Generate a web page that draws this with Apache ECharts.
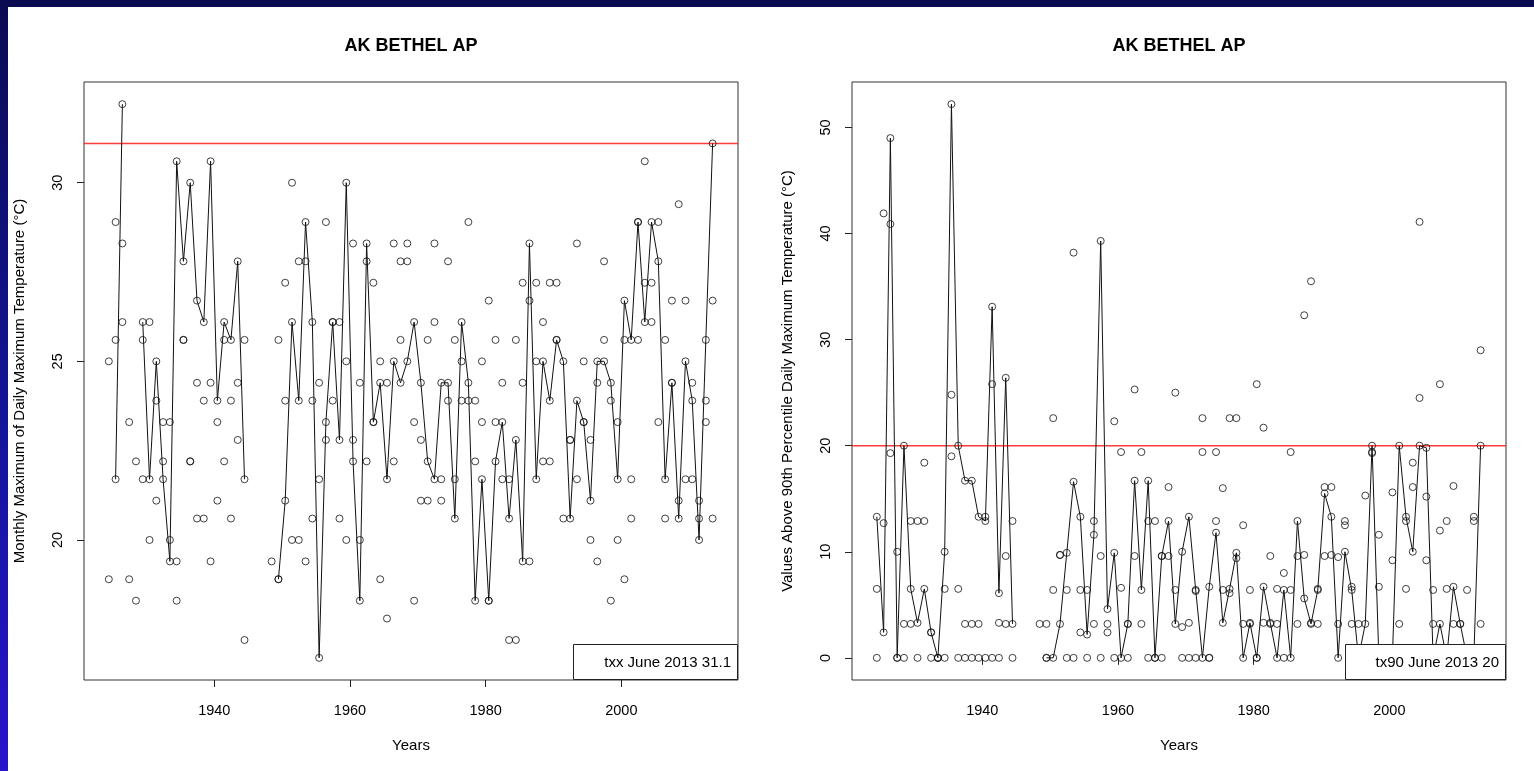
<!DOCTYPE html>
<html>
<head>
<meta charset="utf-8">
<script src="https://cdn.jsdelivr.net/npm/echarts@6/dist/echarts.min.js"></script>
<style>
  html, body { margin: 0; padding: 0; width: 1534px; height: 771px; overflow: hidden; background: #0b0b52; }
  #edge { position: absolute; left: 0; top: 0; width: 8px; height: 771px;
          background: linear-gradient(to bottom, #0b0b52 0%, #13159a 55%, #2a14cc 100%); }
  #sheet { position: absolute; left: 8px; top: 7px; right: 0; bottom: 0; background: #ffffff; }
  #chart { position: absolute; left: 0; top: 0; width: 1534px; height: 771px; }
</style>
</head>
<body>
<div id="edge"></div>
<div id="sheet"></div>
<div id="chart"></div>
<script>
// Station and index labels
const stationName = 'AK BETHEL AP';
const reportMonth = 'June';
const reportYear = 2013;

// Years with observations (1945-1947 absent)
const years = [
  1924, 1925, 1926, 1927, 1928, 1929, 1930, 1931, 1932, 1933,
  1934, 1935, 1936, 1937, 1938, 1939, 1940, 1941, 1942, 1943,
  1944, 1948, 1949, 1950, 1951, 1952, 1953, 1954, 1955, 1956,
  1957, 1958, 1959, 1960, 1961, 1962, 1963, 1964, 1965, 1966,
  1967, 1968, 1969, 1970, 1971, 1972, 1973, 1974, 1975, 1976,
  1977, 1978, 1979, 1980, 1981, 1982, 1983, 1984, 1985, 1986,
  1987, 1988, 1989, 1990, 1991, 1992, 1993, 1994, 1995, 1996,
  1997, 1998, 1999, 2000, 2001, 2002, 2003, 2004, 2005, 2006,
  2007, 2008, 2009, 2010, 2011, 2012, 2013
];

// TXx: June monthly maximum of daily maximum temperature (°C), null = missing
const txxJune = [
  null, 21.7, 32.2, null, null, 26.1, 21.7, 25.0, 21.7, 19.4,
  30.6, 27.8, 30.0, 26.7, 26.1, 30.6, 23.9, 26.1, 25.6, 27.8,
  21.7, null, 18.9, 21.1, 26.1, 23.9, 28.9, 26.1, 16.7, 23.3,
  26.1, 22.8, 30.0, 22.2, 18.3, 28.3, 23.3, 24.4, 21.7, 25.0,
  24.4, 25.0, 26.1, 24.4, 22.2, 21.7, 24.4, 24.4, 20.6, 26.1,
  24.4, 18.3, 21.7, 18.3, 22.2, 23.3, 20.6, 22.8, 19.4, 28.3,
  21.7, 25.0, 23.9, 25.6, 25.0, 20.6, 23.9, 23.3, 21.1, 25.0,
  25.0, 24.4, 21.7, 26.7, 25.6, 28.9, 26.1, 28.9, 27.8, 21.7,
  24.4, 20.6, 25.0, 23.9, 20.0, 25.6, 31.1
];
// TXx: the other monthly values plotted for each year (°C)
const txxOtherA = [
  25.0, 28.9, 28.3, 23.3, 22.2, 25.6, 26.1, 23.9, 23.3, 23.3,
  19.4, 25.6, 22.2, 24.4, 23.9, 24.4, 23.3, 25.6, 23.9, 24.4,
  25.6, 19.4, 25.6, 27.2, 30.0, 27.8, 27.8, 23.9, 24.4, 28.9,
  26.1, 26.1, 25.0, 28.3, 24.4, 27.8, 27.2, 25.0, 24.4, 28.3,
  27.8, 28.3, 23.3, 22.8, 25.6, 28.3, 21.7, 27.8, 25.6, 25.0,
  28.9, 23.9, 25.0, 26.7, 25.6, 24.4, 21.7, 25.6, 27.2, 26.7,
  27.2, 26.1, 27.2, 27.2, 20.6, 22.8, 28.3, 25.0, 22.8, 24.4,
  27.8, 23.9, 23.3, 25.6, 21.7, 28.9, 30.6, 27.2, 28.9, 25.6,
  26.7, 29.4, 26.7, 24.4, 21.1, 23.9, 26.7
];
const txxOtherB = [
  18.9, 25.6, 26.1, 18.9, 18.3, 21.7, 20.0, 21.1, 22.2, 20.0,
  18.3, 25.6, 22.2, 20.6, 20.6, 19.4, 21.1, 22.2, 20.6, 22.8,
  17.2, null, 18.9, 23.9, 20.0, 20.0, 19.4, 20.6, 21.7, 22.8,
  23.9, 20.6, 20.0, 22.8, 20.0, 22.2, 23.3, 18.9, 17.8, 22.2,
  25.6, 27.8, 18.3, 21.1, 21.1, 26.1, 21.1, 23.9, 21.7, 23.9,
  23.9, 22.2, 23.3, 18.3, 23.3, 21.7, 17.2, 17.2, 24.4, 19.4,
  25.0, 22.2, 22.2, 25.6, null, 22.8, 21.7, 23.3, 20.0, 19.4,
  25.6, 18.3, 20.0, 18.9, 20.6, 25.6, 27.2, 26.1, 23.3, 20.6,
  24.4, 21.1, 21.7, 21.7, 20.6, 23.3, 20.6
];

// TX90p: June values above the 90th percentile daily maximum temperature
const tx90June = [
  13.3, 2.4, 49.0, 0, 20.0, 6.5, 3.3, 6.5, 2.4, 0,
  10.0, 52.2, 20.0, 16.7, 16.7, 13.3, 12.9, 33.1, 6.1, 26.4,
  3.2, null, 0, 0, 3.2, 9.9, 16.6, 13.3, 2.2, 11.6,
  39.3, 4.6, 9.9, 0, 3.2, 16.7, 6.4, 16.7, 0, 9.6,
  12.9, 3.2, 10.0, 13.3, 6.4, 0, 6.7, 11.8, 3.3, 6.5,
  9.9, 0, 3.3, 0, 6.7, 3.3, 0, 6.4, 0, 12.9,
  5.6, 3.2, 6.4, 15.5, 13.3, 0, 10.0, 6.4, 0, 3.2,
  20.0, 0, 0, 0, 20.0, 13.3, 10.0, 20.0, 19.8, 0,
  3.2, 0, 6.7, 3.2, 0, 0, 20.0
];
const tx90OtherA = [
  6.5, 41.9, 40.9, 10.0, 3.2, 12.9, 12.9, 12.9, 2.4, 0,
  6.5, 24.8, 6.5, 3.2, 3.2, 3.2, 13.3, 25.8, 3.3, 9.6,
  12.9, 3.2, 0, 22.6, 9.7, 6.4, 38.2, 6.4, 6.4, 12.9,
  9.6, 3.2, 22.3, 19.4, 3.2, 25.3, 19.4, 12.9, 12.9, 9.6,
  16.1, 25.0, 2.9, 3.3, 6.3, 22.6, 0, 19.4, 16.0, 22.6,
  22.6, 12.5, 6.4, 25.8, 21.7, 9.6, 6.5, 8.0, 19.4, 9.6,
  32.3, 35.5, 6.5, 16.1, 16.1, 9.5, 12.9, 6.7, 3.2, 15.3,
  19.4, 11.6, 0, 15.6, 3.2, 12.9, 18.4, 41.1, 15.2, 6.4,
  25.8, 12.9, 16.2, 3.2, 6.4, 13.3, 29.0
];
const tx90OtherB = [
  0, 12.7, 19.3, 0, 0, 3.2, 0, 18.4, 0, 0,
  0, 19.0, 0, 0, 0, 0, 0, 0, 0, 3.2,
  0, null, 3.2, 6.4, 9.7, 0, 0, 2.4, 0, 3.2,
  0, 2.4, 0, 6.6, 0, 9.6, 3.2, 0, 0, 0,
  9.6, 6.4, 0, 0, 0, 19.4, 0, 12.9, 6.4, 6.1,
  9.4, 3.2, 3.2, 0, 3.3, 3.2, 3.2, 0, 6.4, 3.2,
  9.7, 3.3, 3.2, 9.6, 9.7, 3.2, 12.5, 3.2, 0, 0,
  19.3, 6.7, 0, 9.2, 0, 6.5, 16.1, 24.5, 9.2, 3.2,
  12.0, 6.5, 3.2, 0, 0, 12.9, 3.2
];

// Axis tick values
const yearTicks = [1940, 1960, 1980, 2000];
const txxTicks = [20, 25, 30];
const tx90Ticks = [0, 10, 20, 30, 40, 50];

// Year axis bounds shared by both panels
const YEAR_MIN = 1920.8;
const YEAR_MAX = 2017.2;
// Mid-June as a decimal-year offset
const JUNE_POS = 5.5 / 12;
const FONT = '"Liberation Sans", Arial, Helvetica, sans-serif';
const THRESHOLD_RED = '#ff1a1a';

function scatterPoints(arrays) {
  const out = [];
  arrays.forEach(arr => arr.forEach((v, i) => {
    if (v !== null && v !== undefined) out.push([years[i] + JUNE_POS, v]);
  }));
  return out;
}
function linePoints(arr) {
  return years.map((y, i) => [y + JUNE_POS, arr[i] === null ? '-' : arr[i]]);
}
// Plot range padded by 4% of the data range on each side
function paddedRange(arrays) {
  const all = [].concat(...arrays).filter(v => v !== null);
  const lo = Math.min(...all), hi = Math.max(...all);
  const pad = (hi - lo) * 0.04;
  return [lo - pad, hi + pad];
}

const txxRange = paddedRange([txxJune, txxOtherA, txxOtherB]);
const tx90Range = paddedRange([tx90June, tx90OtherA, tx90OtherB]);
const lastIdx = years.indexOf(reportYear);
const txxLatest = txxJune[lastIdx];
const tx90Latest = tx90June[lastIdx];

const grids = [
  { left: 84, top: 82, width: 654, height: 598 },
  { left: 852, top: 82, width: 654, height: 598 }
];

function xAxisFor(gi) {
  return {
    type: 'value', gridIndex: gi, min: YEAR_MIN, max: YEAR_MAX,
    axisLine: { show: false },
    splitLine: { show: false },
    axisTick: { show: true, inside: false, length: 7, customValues: yearTicks,
                lineStyle: { color: '#222', width: 1 } },
    axisLabel: { show: true, customValues: yearTicks, margin: 23,
                 color: '#000', fontSize: 14.5, fontFamily: FONT,
                 formatter: v => String(Math.round(v)) }
  };
}
function yAxisFor(gi, range, ticks) {
  return {
    type: 'value', gridIndex: gi, min: range[0], max: range[1],
    axisLine: { show: false },
    splitLine: { show: false },
    axisTick: { show: true, inside: false, length: 7, customValues: ticks,
                lineStyle: { color: '#222', width: 1 } },
    axisLabel: { show: true, customValues: ticks, rotate: 90, margin: 19,
                 color: '#000', fontSize: 14.5, fontFamily: FONT,
                 formatter: v => String(Math.round(v)) }
  };
}

const circleStyle = { color: 'rgba(0,0,0,0)', borderColor: '#111', borderWidth: 1 };

// One panel: red reference level at the latest June value, the June line, all monthly circles
function panelSeries(gi, june, otherA, otherB, threshold) {
  return [
    {
      type: 'line', xAxisIndex: gi, yAxisIndex: gi,
      data: [[YEAR_MIN, threshold], [YEAR_MAX, threshold]],
      showSymbol: false, color: THRESHOLD_RED,
      lineStyle: { color: THRESHOLD_RED, width: 1.6, opacity: 0.85 },
      silent: true, animation: false, z: 2
    },
    {
      type: 'line', xAxisIndex: gi, yAxisIndex: gi,
      data: linePoints(june), showSymbol: false, connectNulls: false,
      color: '#111', lineStyle: { color: '#111', width: 1 },
      silent: true, animation: false, z: 3
    },
    {
      type: 'scatter', xAxisIndex: gi, yAxisIndex: gi,
      data: scatterPoints([june, otherA, otherB]),
      symbol: 'circle', symbolSize: 7, itemStyle: circleStyle,
      silent: true, animation: false, z: 4
    }
  ];
}

function text(x, y, str, font, rot, align) {
  return {
    type: 'text', x: x, y: y, rotation: rot || 0, z: 20,
    style: { text: str, font: font, fill: '#000',
             textAlign: align || 'center', textVerticalAlign: 'middle',
             align: align || 'center', verticalAlign: 'middle' }
  };
}

const titleFont = 'bold 18px ' + FONT;
const labelFont = '15px ' + FONT;
const legendFont = '15px ' + FONT;

const chart = echarts.init(document.getElementById('chart'), null, { renderer: 'canvas' });
chart.setOption({
  backgroundColor: 'transparent',
  animation: false,
  grid: grids.map(g => Object.assign({ show: true, borderColor: '#333', borderWidth: 1,
                                       backgroundColor: 'transparent' }, g)),
  xAxis: [xAxisFor(0), xAxisFor(1)],
  yAxis: [yAxisFor(0, txxRange, txxTicks), yAxisFor(1, tx90Range, tx90Ticks)],
  series: [].concat(
    panelSeries(0, txxJune, txxOtherA, txxOtherB, txxLatest),
    panelSeries(1, tx90June, tx90OtherA, tx90OtherB, tx90Latest)
  ),
  graphic: [
    text(411, 46, stationName, titleFont),
    text(1179, 46, stationName, titleFont),
    text(411, 746, 'Years', labelFont),
    text(1179, 746, 'Years', labelFont),
    text(20, 381, 'Monthly Maximum of Daily Maximum Temperature (°C)', labelFont, Math.PI / 2),
    text(788, 381, 'Values Above 90th Percentile Daily Maximum Temperature (°C)', labelFont, Math.PI / 2),
    { type: 'rect', z: 15, shape: { x: 573.5, y: 644.5, width: 164, height: 35 },
      style: { fill: '#fff', stroke: '#222', lineWidth: 1 } },
    text(731, 663, 'txx ' + reportMonth + ' ' + reportYear + ' ' + txxLatest, legendFont, 0, 'right'),
    { type: 'rect', z: 15, shape: { x: 1345.5, y: 644.5, width: 160, height: 35 },
      style: { fill: '#fff', stroke: '#222', lineWidth: 1 } },
    text(1499, 663, 'tx90 ' + reportMonth + ' ' + reportYear + ' ' + tx90Latest, legendFont, 0, 'right')
  ]
});
</script>
</body>
</html>
